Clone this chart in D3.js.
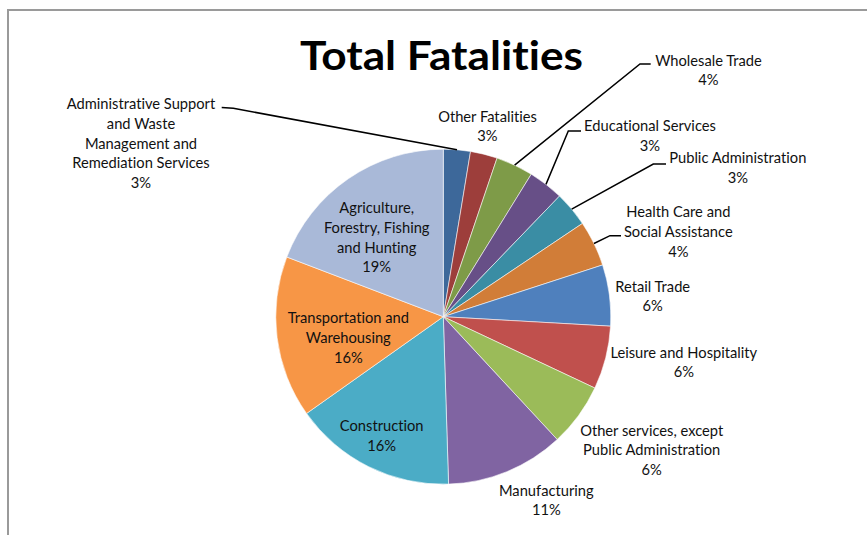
<!DOCTYPE html>
<html>
<head>
<meta charset="utf-8">
<script src="https://cdn.jsdelivr.net/npm/d3@7"></script>
<style>
  html, body { margin: 0; padding: 0; background: #fff; }
  svg { display: block; }
  text { font-family: Lato, "Open Sans", sans-serif; fill: #111; font-variant-ligatures: none; font-feature-settings: "liga" 0, "clig" 0; }
</style>
</head>
<body>
<svg id="chart" width="867" height="535"></svg>
<script>
// Industry categories, clockwise from 12 o'clock
const categories = [
  "Administrative Support and Waste Management and Remediation Services",
  "Other Fatalities",
  "Wholesale Trade",
  "Educational Services",
  "Public Administration",
  "Health Care and Social Assistance",
  "Retail Trade",
  "Leisure and Hospitality",
  "Other services, except Public Administration",
  "Manufacturing",
  "Construction",
  "Transportation and Warehousing",
  "Agriculture, Forestry, Fishing and Hunting"
];

// Share of total fatalities (percent)
const shares = [2.6, 2.6, 3.6, 3.4, 3.4, 4.4, 5.9, 6.1, 6.1, 11.4, 15.7, 15.6, 19.2];

// Line breaks used in each slice label
const labelLines = [
  ["Administrative Support", "and Waste", "Management and", "Remediation Services"],
  ["Other Fatalities"],
  ["Wholesale Trade"],
  ["Educational Services"],
  ["Public Administration"],
  ["Health Care and", "Social Assistance"],
  ["Retail Trade"],
  ["Leisure and Hospitality"],
  ["Other services, except", "Public Administration"],
  ["Manufacturing"],
  ["Construction"],
  ["Transportation and", "Warehousing"],
  ["Agriculture,", "Forestry, Fishing", "and Hunting"]
];

const sliceColors = [
  "#3D689A", "#9D3E3B", "#7E9B48", "#674F87", "#3A8DA4", "#D17D38",
  "#4F80BD", "#C0504D", "#9BBB59", "#8064A2", "#4BACC6", "#F79646", "#A9B9D8"
];

// Label placement: centre x, first line y, optional leader path (elbow, end)
const labelLayout = [
  { x: 141, y: 104.3, leader: [[233.3, 108.3], [221.7, 107.5]] },
  { x: 487.5, y: 116.5 },
  { x: 708.5, y: 60.7, leader: [[640, 64], [650.7, 64]] },
  { x: 650, y: 126.3, leader: [[568.3, 131], [581, 131]] },
  { x: 737.8, y: 158.3, leader: [[653.3, 164], [666, 164]] },
  { x: 678.3, y: 212.3, leader: [[610, 235.7], [621, 235.7]] },
  { x: 652.7, y: 286.7 },
  { x: 683.8, y: 352.7 },
  { x: 651.7, y: 430.7 },
  { x: 546.3, y: 490.7 },
  { x: 381.7, y: 426.3 },
  { x: 348.3, y: 318.3 },
  { x: 376.7, y: 208.3 }
];

const W = 867, H = 535;
const cx = 443.3, cy = 316.7, radius = 167.5;
const lineStep = 19.6;

const svg = d3.select("#chart");

// Chart frame
svg.append("rect")
  .attr("x", 8).attr("y", 10)
  .attr("width", W + 20).attr("height", H + 20)
  .attr("fill", "none")
  .attr("stroke", "#9a9a9a")
  .attr("stroke-width", 2);

// Title
svg.append("text")
  .attr("x", 441.5).attr("y", 70)
  .attr("text-anchor", "middle")
  .attr("font-size", 40)
  .attr("font-weight", 700)
  .attr("textLength", 283)
  .attr("lengthAdjust", "spacingAndGlyphs")
  .style("fill", "#000")
  .text("Total Fatalities");

const data = categories.map((name, i) => ({
  name, share: shares[i], color: sliceColors[i], lines: labelLines[i], layout: labelLayout[i]
}));
const total = d3.sum(shares);

const pie = d3.pie().sort(null).value(d => d.share);
const arcs = pie(data);
const arc = d3.arc().innerRadius(0).outerRadius(radius);
const rim = d3.arc().innerRadius(radius).outerRadius(radius);

const g = svg.append("g").attr("transform", `translate(${cx},${cy})`);

g.selectAll("path.slice")
  .data(arcs)
  .join("path")
  .attr("class", "slice")
  .attr("d", arc)
  .attr("fill", d => d.data.color)
  .attr("stroke", "#ffffff")
  .attr("stroke-opacity", 0.7)
  .attr("stroke-width", 0.8);

// Leader lines from slice rim to label
const leaderLine = d3.line();
arcs.forEach(d => {
  const lay = d.data.layout;
  if (!lay.leader) return;
  const [sx, sy] = rim.centroid(d);
  const pts = [[cx + sx, cy + sy], ...lay.leader];
  svg.append("path")
    .attr("d", leaderLine(pts))
    .attr("fill", "none")
    .attr("stroke", "#000")
    .attr("stroke-width", 1.5);
});

// Slice labels: name lines followed by the rounded percentage
arcs.forEach(d => {
  const lay = d.data.layout;
  const lines = [...d.data.lines, Math.round(d.data.share / total * 100) + "%"];
  const t = svg.append("text")
    .attr("text-anchor", "middle")
    .attr("font-size", 14.7);
  lines.forEach((ln, j) => {
    t.append("tspan")
      .attr("x", lay.x)
      .attr("y", lay.y + j * lineStep)
      .attr("dy", "0.35em")
      .text(ln);
  });
});
</script>
</body>
</html>
